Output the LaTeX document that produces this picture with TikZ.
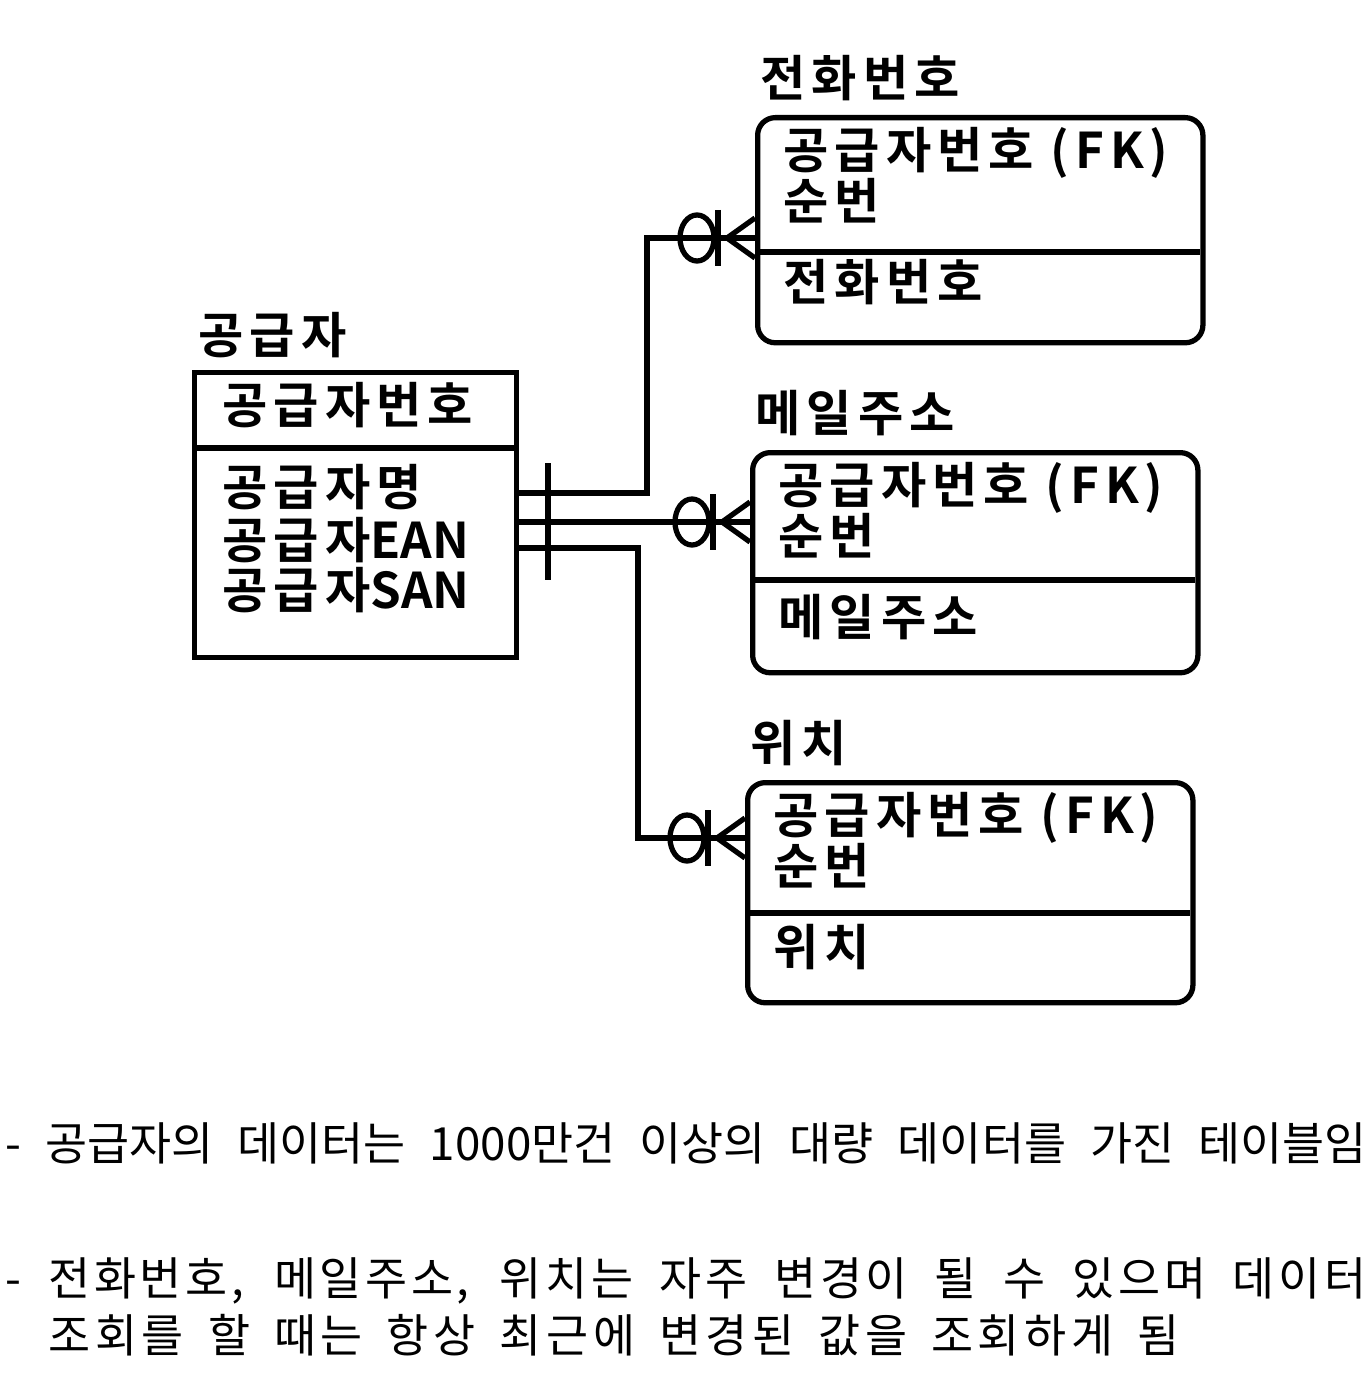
\documentclass[tikz,border=0pt]{standalone}
\usepackage{fontspec}
\usepackage{tikz}
\newfontfamily\korb[LetterSpace=12]{Noto Sans CJK KR Bold}
\newfontfamily\kor{Noto Sans CJK KR}

\begin{document}
\begin{tikzpicture}[x=0.01cm,y=-0.01cm,
  box/.style={draw,line width=1.5pt,inner sep=0,anchor=north west,minimum width=4.45cm},
  weak/.style={box,rounded corners=5pt},
  lbl/.style={font=\korb\fontsize{14}{16}\selectfont,anchor=west,inner sep=0},
  rel/.style={line width=1.5pt},
  note/.style={font=\kor\fontsize{13}{15}\selectfont,anchor=base west,inner sep=0},
  zeromany/.pic={
    \draw[rel] (-28,0) -- (0,-20) (-28,0) -- (0,20);
    \draw[rel] (-37,-28) -- (-37,28);
    \draw[rel] (-58,0) ellipse [x radius=0.17cm,y radius=0.23cm];
  }]
  \useasboundingbox (0,0) rectangle (1370,1379);

  % supplier
  \node[lbl] (sup-t) at (198,335) {공급자};
  \node[box,minimum width=3.22cm,minimum height=2.85cm] (sup) at (192,370) {};
  \draw[rel] (192,448) -- (514,448);
  \node[lbl] (sup-k) at (222,405) {공급자번호};
  \node[lbl] (sup-1) at (222,487) {공급자명};
  \node[lbl] (sup-2) at (222,540) {공급자\addfontfeature{LetterSpace=0}EAN};
  \node[lbl] (sup-3) at (222,590) {공급자\addfontfeature{LetterSpace=0}SAN};

  % dependent tables
  \foreach \nm/\ttl/\x/\y/\h/\d in {tel/전화번호/755/115/2.25/137,
                                     mail/메일주소/750/450/2.2/130,
                                     loc/위치/745/780/2.2/133}{
    \node[lbl] (\nm-t) at (\x+5,\y-37) {\ttl};
    \node[weak,minimum height=\h cm] (\nm) at (\x,\y) {};
    \draw[rel] (\x,\y+\d) -- (\x+445,\y+\d);
    \node[lbl] (\nm-1) at (\x+28,\y+38) {공급자번호 (FK)};
    \node[lbl] (\nm-2) at (\x+28,\y+86) {순번};
    \node[lbl] (\nm-3) at (\x+28,\y+167) {\ttl};
  }

  % relationships
  \coordinate (s1) at (514,493);
  \coordinate (s2) at (514,522);
  \coordinate (s3) at (514,548);
  \coordinate (t1) at (755,238);
  \coordinate (m1) at (750,522);
  \coordinate (l1) at (745,838);
  \draw[rel] (s1) -- (647,493) |- (t1);
  \draw[rel] (s2) -- (m1);
  \draw[rel] (s3) -- (638,548) |- (l1);
  \draw[rel] (548,463) -- (548,580);
  \pic at (t1) {zeromany};
  \pic at (m1) {zeromany};
  \pic at (l1) {zeromany};

  % notes
  \node[note] (n1) at (5,1160) {\makebox[13.6cm][s]{- 공급자의 데이터는 1000만건 이상의 대량 데이터를 가진 테이블임}};
  \node[note] (n2) at (5,1295) {\addfontfeature{LetterSpace=8}\makebox[13.6cm][s]{- 전화번호, 메일주소, 위치는 자주 변경이 될 수 있으며 데이터}};
  \node[note] (n3) at (48,1352) {\addfontfeature{LetterSpace=10}\makebox[11.3cm][s]{조회를 할 때는 항상 최근에 변경된 값을 조회하게 됨}};
\end{tikzpicture}
\end{document}
